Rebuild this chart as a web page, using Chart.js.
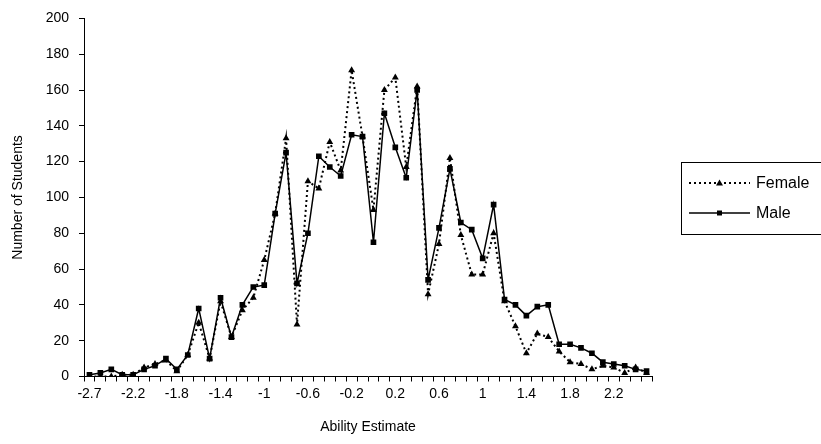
<!DOCTYPE html>
<html>
<head>
<meta charset="utf-8">
<script src="https://cdn.jsdelivr.net/npm/chart.js"></script>
<style>
  html, body { margin: 0; padding: 0; background: #fff; overflow: hidden; }
  #wrap { width: 821px; height: 444px; position: relative; }
</style>
</head>
<body>
<div id="wrap"><canvas id="c" width="821" height="444"></canvas></div>
<script>
// ability bands (x categories), every 4th one gets a label
const abilityLevels = ['-2.7','-2.5','-2.4','-2.3','-2.2','-2.1','-2','-1.9','-1.8','-1.7','-1.6','-1.5',
  '-1.4','-1.3','-1.2','-1.1','-1','-0.9','-0.8','-0.7','-0.6','-0.5','-0.4','-0.3','-0.2','-0.1',
  '0','0.1','0.2','0.3','0.4','0.5','0.6','0.7','0.8','0.9','1','1.1','1.2','1.3','1.4','1.5',
  '1.6','1.7','1.8','1.9','2','2.1','2.2','2.3','2.4','2.5'];
const shownTicks = ['-2.7','-2.2','-1.8','-1.4','-1','-0.6','-0.2','0.2','0.6','1','1.4','1.8','2.2'];

const female = [0,0,0,1,1,5,7,9,3,12,30,10,42,22,37,44,65,91,133,29,109,105,131,115,171,134,
  93,160,167,117,162,46,74,122,79,57,57,80,42,28,13,24,22,14,8,7,4,6,5,2,5,2];
const male = [1,2,4,1,1,4,6,10,4,12,38,10,44,22,40,50,51,91,125,52,80,123,117,112,135,134,
  75,147,128,111,160,54,83,116,86,82,66,96,43,40,34,39,40,18,18,16,13,8,7,6,4,3];

const FONT = 'Liberation Sans, Arial, sans-serif';

// Excel-style boxed legend on the right
const boxLegend = {
  id: 'boxLegend',
  afterDraw(chart) {
    const ctx = chart.ctx;
    ctx.save();
    ctx.strokeStyle = '#000';
    ctx.lineWidth = 1;
    ctx.setLineDash([]);
    ctx.strokeRect(681.5, 162.5, 150, 72);
    const rows = [183, 213];
    chart.data.datasets.forEach((ds, i) => {
      const y = rows[i];
      ctx.beginPath();
      ctx.lineWidth = ds.borderWidth;
      ctx.setLineDash(ds.borderDash || []);
      ctx.moveTo(689, y);
      ctx.lineTo(750, y);
      ctx.stroke();
      ctx.setLineDash([]);
      ctx.fillStyle = '#000';
      ctx.beginPath();
      if (ds.pointStyle === 'triangle') {
        ctx.moveTo(719.5, y - 3.5);
        ctx.lineTo(723, y + 2.5);
        ctx.lineTo(716, y + 2.5);
        ctx.closePath();
      } else {
        ctx.rect(717, y - 2.5, 5, 5);
      }
      ctx.fill();
      ctx.font = '16px ' + FONT;
      ctx.textBaseline = 'middle';
      ctx.textAlign = 'left';
      ctx.fillText(ds.label, 756, y + 1);
    });
    ctx.restore();
  }
};

new Chart(document.getElementById('c'), {
  type: 'line',
  data: {
    labels: abilityLevels,
    datasets: [
      { label: 'Female', data: female, borderColor: '#000', backgroundColor: '#000',
        borderWidth: 2, borderDash: [2, 3], pointStyle: 'triangle', pointRadius: 4,
        pointBorderWidth: 0, tension: 0, fill: false },
      { label: 'Male', data: male, borderColor: '#000', backgroundColor: '#000',
        borderWidth: 1.5, pointStyle: 'rect', pointRadius: 4,
        pointBorderWidth: 0, tension: 0, fill: false }
    ]
  },
  options: {
    responsive: false,
    animation: false,
    layout: { padding: { top: 10, right: 169, bottom: 0, left: 0 } },
    plugins: { legend: { display: false }, tooltip: { enabled: false } },
    scales: {
      x: {
        type: 'category',
        offset: true,
        afterFit(scale) { scale.height = 67.5; },
        grid: { offset: true, drawOnChartArea: false, drawTicks: true, tickLength: 5, color: '#000' },
        border: { color: '#000', width: 1 },
        ticks: {
          autoSkip: false, maxRotation: 0, minRotation: 0, padding: 4, color: '#000',
          font: { family: FONT, size: 14 },
          callback(v) { const l = this.getLabelForValue(v); return shownTicks.includes(l) ? l : ''; }
        },
        title: { display: true, text: 'Ability Estimate', color: '#000', padding: { top: 12, bottom: 8 },
          font: { family: FONT, size: 14 } }
      },
      y: {
        min: 0, max: 200,
        afterFit(scale) { scale.width = 84; },
        grid: { drawOnChartArea: false, drawTicks: true, tickLength: 5, color: '#000' },
        border: { color: '#000', width: 1 },
        ticks: { stepSize: 20, padding: 10, color: '#000', font: { family: FONT, size: 14 } },
        title: { display: true, text: 'Number of Students', color: '#000', padding: { top: 10, bottom: 0 },
          font: { family: FONT, size: 14 } }
      }
    }
  },
  plugins: [boxLegend]
});
</script>
</body>
</html>
